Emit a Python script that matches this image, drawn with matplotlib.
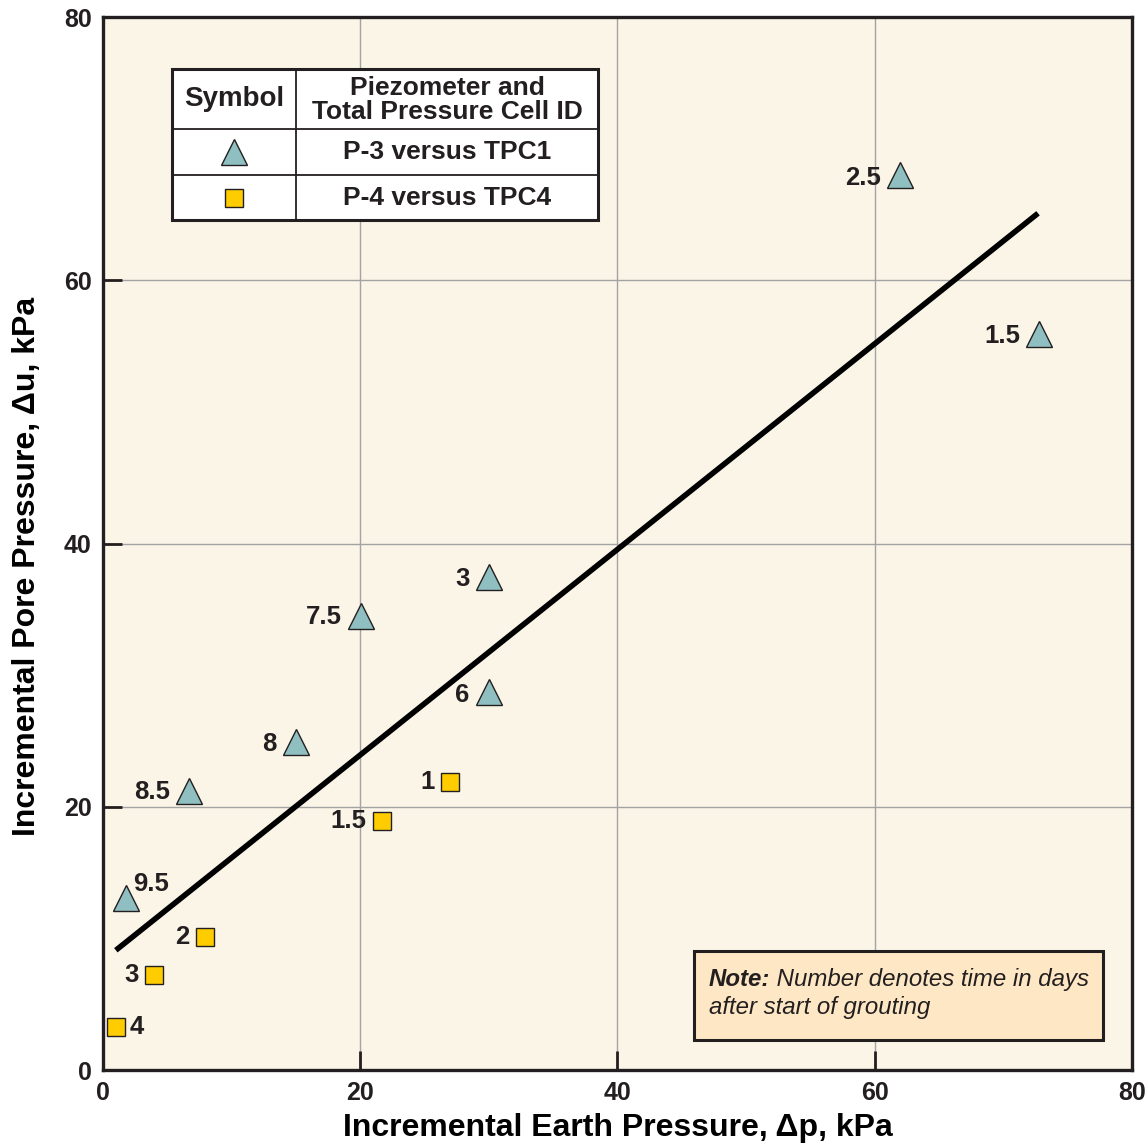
import matplotlib.pyplot as plt
from matplotlib.patches import Rectangle
from matplotlib.lines import Line2D

plt.rcParams['font.family'] = ['Liberation Sans', 'DejaVu Sans']

# P-3 versus TPC1 (triangles)
tri_x = [62.0, 72.8, 30.0, 20.1, 30.0, 15.0, 6.7, 1.8]
tri_y = [68.0, 55.9, 37.5, 34.5, 28.7, 24.9, 21.2, 13.1]
tri_lab = ["2.5", "1.5", "3", "7.5", "6", "8", "8.5", "9.5"]

# P-4 versus TPC4 (squares)
sq_x = [27.0, 21.7, 7.9, 4.0, 1.0]
sq_y = [21.9, 18.9, 10.1, 7.2, 3.3]
sq_lab = ["1", "1.5", "2", "3", "4"]

# best fit line end points
fit_x = [1.0, 72.7]
fit_y = [9.1, 65.1]

ticks = [0, 20, 40, 60, 80]

ink = "#231F20"
tri_col = "#8FBFC0"
sq_col = "#FFCC00"

fig = plt.figure(figsize=(11.48, 11.46), dpi=100)
ax = fig.add_axes([0.0897, 0.0663, 0.8963, 0.9187])
ax.set_facecolor("#FBF5E8")
ax.set_xlim(0, 80)
ax.set_ylim(0, 80)
ax.set_xticks(ticks)
ax.set_yticks(ticks)
ax.grid(True, color="#A3A3A3", lw=1.0, zorder=0)
ax.set_axisbelow(True)
ax.tick_params(direction="in", length=14, width=2, color=ink, labelsize=18,
               labelcolor=ink, pad=8)
for lb in ax.get_xticklabels() + ax.get_yticklabels():
    lb.set_fontweight("bold")
for sp in ax.spines.values():
    sp.set_linewidth(2.4)
    sp.set_color(ink)

ax.set_xlabel("Incremental Earth Pressure, \u0394p, kPa", fontsize=23,
              fontweight="bold", labelpad=6)
ax.set_ylabel("Incremental Pore Pressure, \u0394u, kPa", fontsize=23,
              fontweight="bold")
ax.yaxis.set_label_coords(-0.0593, 0.478)

ax.plot(fit_x, fit_y, color="black", lw=4, solid_capstyle="butt", zorder=3)

ax.plot(tri_x, tri_y, ls="none", marker="^", ms=19, mfc=tri_col, mec=ink,
        mew=1.0, zorder=4)
ax.plot(sq_x, sq_y, ls="none", marker="s", ms=13, mfc=sq_col, mec=ink,
        mew=1.0, zorder=4)

# label offsets in points (dx, dy, ha)
tri_off = [(-14, -2, "right"), (-14, -1, "right"), (-14, -2, "right"),
           (-14, -1, "right"), (-14, -2, "right"), (-14, -1, "right"),
           (-14, -1, "right"), (5, 10, "left")]
sq_off = [(-11, 0, "right"), (-11, 0, "right"), (-11, 0, "right"),
          (-11, 0, "right"), (10, 0, "left")]

for x, y, t, (dx, dy, ha) in zip(tri_x, tri_y, tri_lab, tri_off):
    ax.annotate(t, (x, y), xytext=(dx, dy), textcoords="offset points",
                ha=ha, va="center", fontsize=18.5, fontweight="bold",
                color=ink, zorder=5)
for x, y, t, (dx, dy, ha) in zip(sq_x, sq_y, sq_lab, sq_off):
    ax.annotate(t, (x, y), xytext=(dx, dy), textcoords="offset points",
                ha=ha, va="center", fontsize=18.5, fontweight="bold",
                color=ink, zorder=5)

# legend table
tr = ax.transAxes
x0, x1, xm = 0.067, 0.481, 0.1876
y0, y1, yr1, yr2 = 0.807, 0.9506, 0.8936, 0.850
ax.add_patch(Rectangle((x0, y0), x1 - x0, y1 - y0, transform=tr,
                       facecolor="white", edgecolor=ink, lw=2.2, zorder=6))
ax.add_line(Line2D([xm, xm], [y0, y1], transform=tr, color=ink, lw=1.3, zorder=7))
ax.add_line(Line2D([x0, x1], [yr1, yr1], transform=tr, color=ink, lw=1.3, zorder=7))
ax.add_line(Line2D([x0, x1], [yr2, yr2], transform=tr, color=ink, lw=1.3, zorder=7))
ax.text((x0 + xm) / 2, (yr1 + y1) / 2, "Symbol", transform=tr, ha="center",
        va="center", fontsize=20, fontweight="bold", color=ink, zorder=8)
ax.text((xm + x1) / 2, (yr1 + y1) / 2 - 0.001,
        "Piezometer and\nTotal Pressure Cell ID",
        transform=tr, ha="center", va="center", fontsize=19,
        fontweight="bold", color=ink, linespacing=0.98, zorder=8)
ax.plot([(x0 + xm) / 2], [(yr2 + yr1) / 2], transform=tr, marker="^", ms=19,
        mfc=tri_col, mec=ink, mew=1.0, zorder=8, clip_on=False)
ax.plot([(x0 + xm) / 2], [(y0 + yr2) / 2], transform=tr, marker="s", ms=13,
        mfc=sq_col, mec=ink, mew=1.0, zorder=8, clip_on=False)
ax.text((xm + x1) / 2, (yr2 + yr1) / 2, "P-3 versus TPC1", transform=tr,
        ha="center", va="center", fontsize=19, fontweight="bold",
        color=ink, zorder=8)
ax.text((xm + x1) / 2, (y0 + yr2) / 2, "P-4 versus TPC4", transform=tr,
        ha="center", va="center", fontsize=19, fontweight="bold",
        color=ink, zorder=8)

# note box
ax.add_patch(Rectangle((0.574, 0.0285), 0.398, 0.0845, transform=tr,
                       facecolor="#FDE7C4", edgecolor=ink, lw=2.2, zorder=6))
note = ax.text(0.589, 0.080, "Note:", transform=tr, ha="left", va="baseline",
               fontsize=17.3, fontweight="bold", style="italic", color=ink,
               zorder=8)
ax.annotate(" Number denotes time in days", xy=(1, 0.080),
            xycoords=(note, tr), ha="left", va="baseline", fontsize=17.3,
            style="italic", color=ink, zorder=8)
ax.text(0.589, 0.053, "after start of grouting", transform=tr, ha="left",
        va="baseline", fontsize=17.3, style="italic", color=ink, zorder=8)

fig.savefig("out.png", dpi=100)
